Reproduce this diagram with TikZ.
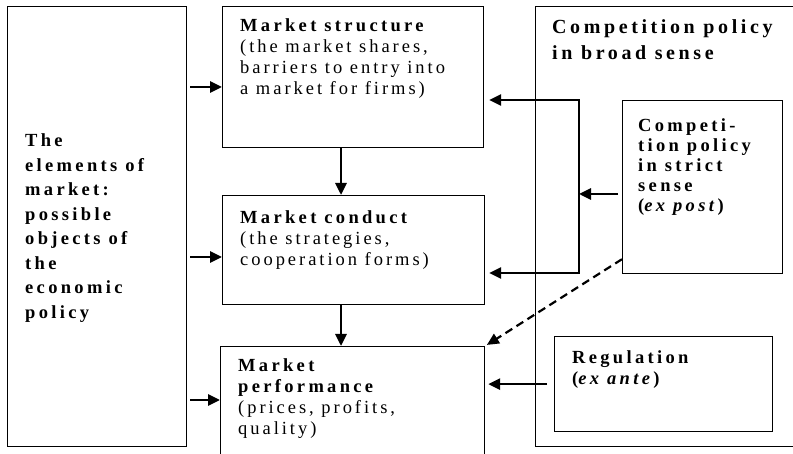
\documentclass[tikz,border=0pt]{standalone}
\usepackage{fontspec}
\setmainfont{Liberation Serif}[
    LetterSpace=16,
    BoldFeatures={LetterSpace=18},
    BoldItalicFeatures={LetterSpace=18},
]
\usetikzlibrary{arrows.meta, positioning}

\begin{document}
\begin{tikzpicture}[
    x=1pt, y=1pt,
    box/.style={
        draw,
        line width=1.2pt,
        inner sep=0pt,
        anchor=north west,
    },
    boxtext/.style={
        anchor=north west,
        inner sep=0pt,
        align=left,
        font=\fontsize{18.5}{21}\selectfont,
    },
    arrow/.style={
        line width=2.8pt,
        -{Triangle[length=12pt, width=11pt]},
    },
    bracket/.style={
        line width=1.2pt,
    },
]
    \clip (0,0) rectangle (793,-454);

    % Boxes
    \node[box, minimum width=179, minimum height=440] (elements) at (7,-6) {};
    \node[box, minimum width=261, minimum height=141] (structure) at (222,-6) {};
    \node[box, minimum width=262, minimum height=109] (conduct) at (222,-195) {};
    \node[box, minimum width=264, minimum height=130] (performance) at (220,-346) {};
    \node[box, minimum width=280, minimum height=440] (broad) at (535,-6) {};
    \node[box, minimum width=160, minimum height=173] (strict) at (622,-100) {};
    \node[box, minimum width=218, minimum height=95] (regulation) at (554,-336) {};

    % Box texts
    \node[boxtext, font=\bfseries\fontsize{18.5}{24.5}\selectfont] (elementstext) at (25,-133.5) {The\\elements of\\market:\\possible\\objects of\\the\\economic\\policy};
    \node[boxtext, below right=12pt and 18pt of structure.north west] (structuretext) {\textbf{Market structure}\\(the market shares,\\barriers to entry into\\a market for  firms)};
    \node[boxtext, below right=15pt and 18pt of conduct.north west] (conducttext) {\textbf{Market conduct}\\(the strategies,\\cooperation forms)};
    \node[boxtext, below right=12.5pt and 18pt of performance.north west] (performancetext) {\textbf{Market}\\\textbf{performance}\\(prices, profits,\\quality)};
    \node[boxtext, below right=13pt and 17pt of broad.north west, font=\bfseries\fontsize{20}{26}\selectfont] (broadtext) {Competition policy\\in  broad sense};
    \node[boxtext, below right=18.5pt and 16pt of strict.north west, font=\bfseries\fontsize{18.5}{20}\selectfont] (stricttext) {Competi-\\tion policy\\in strict\\sense\\(\textit{ex post})};
    \node[boxtext, below right=14.5pt and 18pt of regulation.north west, font=\bfseries\fontsize{18.5}{21}\selectfont] (regulationtext) {Regulation\\(\textit{ex ante})};

    % Bracket from the strict policy
    \coordinate (brtop) at (579,-100);
    \coordinate (brbot) at (579,-273);
    \draw[bracket] ([xshift=-34pt]brtop) -- (brtop) -- (brbot) -- ([xshift=-39pt]brbot);

    % Arrows
    \draw[arrow, shorten <=3pt] (elements.east |- 0,-87) -- (structure.west |- 0,-87);
    \draw[arrow, shorten <=3pt] (elements.east |- 0,-257) -- (conduct.west |- 0,-257);
    \draw[arrow, shorten <=3pt] (elements.east |- 0,-400) -- (performance.west |- 0,-400);
    \draw[arrow] (structure.south -| 341,0) -- (conduct.north -| 341,0);
    \draw[arrow] (conduct.south -| 341,0) -- (performance.north -| 341,0);
    \draw[arrow, shorten <=4pt] (strict.west |- 0,-194) -- (brtop |- 0,-194);
    \draw[arrow, shorten >=5pt] ([xshift=-34pt]brtop) -- (structure.east |- brtop);
    \draw[arrow, shorten >=4pt] ([xshift=-39pt]brbot) -- (conduct.east |- brbot);
    \draw[arrow, line width=2.2pt, dash pattern=on 8pt off 5pt, shorten >=2pt] ([yshift=15pt]strict.south west) -- (performance.north east);
    \draw[arrow, shorten <=7pt, shorten >=3pt] (regulation.west) -- (performance.east |- regulation.west);
\end{tikzpicture}
\end{document}
